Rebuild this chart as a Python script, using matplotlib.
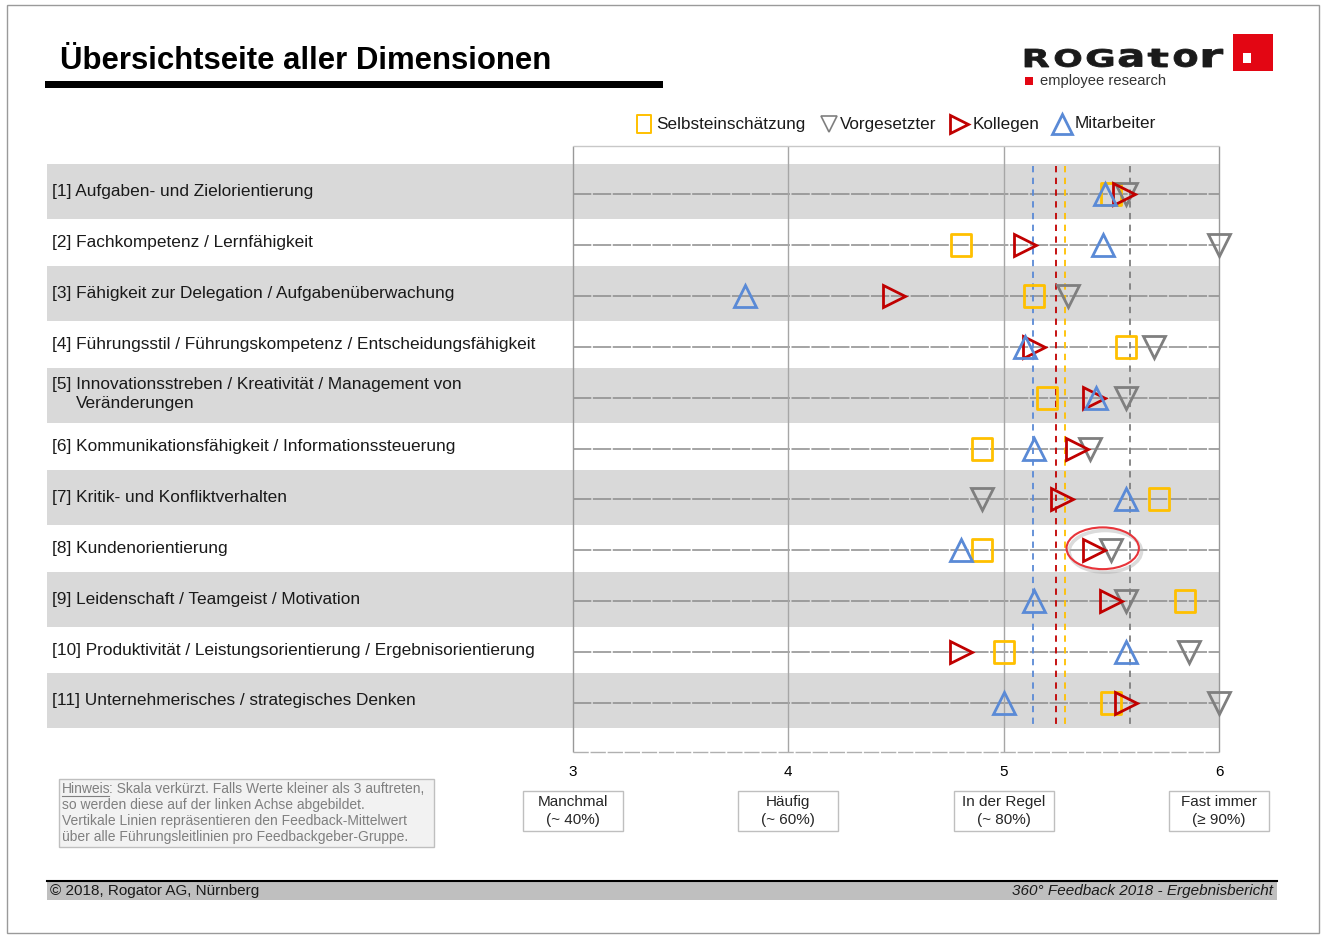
import numpy as np
import matplotlib
matplotlib.use('Agg')
import matplotlib.pyplot as plt
from matplotlib.patches import Rectangle, Ellipse, PathPatch
from matplotlib.path import Path
from matplotlib.textpath import TextPath
from matplotlib.font_manager import FontProperties
from matplotlib.transforms import Affine2D, blended_transform_factory

plt.rcParams['font.family'] = ['Liberation Sans', 'DejaVu Sans']

# data
dimensions = [
    '[1] Aufgaben- und Zielorientierung',
    '[2] Fachkompetenz / Lernfähigkeit',
    '[3] Fähigkeit zur Delegation / Aufgabenüberwachung',
    '[4] Führungsstil / Führungskompetenz / Entscheidungsfähigkeit',
    '[5] Innovationsstreben / Kreativität / Management von\nVeränderungen',
    '[6] Kommunikationsfähigkeit / Informationssteuerung',
    '[7] Kritik- und Konfliktverhalten',
    '[8] Kundenorientierung',
    '[9] Leidenschaft / Teamgeist / Motivation',
    '[10] Produktivität / Leistungsorientierung / Ergebnisorientierung',
    '[11] Unternehmerisches / strategisches Denken',
]
selbst = [5.50, 4.80, 5.14, 5.57, 5.20, 4.90, 5.72, 4.90, 5.84, 5.00, 5.50]
vorgesetzter = [5.57, 6.00, 5.30, 5.70, 5.57, 5.40, 4.90, 5.50, 5.57, 5.86, 6.00]
kollegen = [5.56, 5.10, 4.49, 5.14, 5.42, 5.34, 5.27, 5.42, 5.50, 4.80, 5.57]
mitarbeiter = [5.47, 5.46, 3.80, 5.10, 5.43, 5.14, 5.57, 4.80, 5.14, 5.57, 5.00]
mean_selbst, mean_vorg, mean_koll, mean_mitarb = 5.285, 5.587, 5.243, 5.137
group_names = ['Selbsteinschätzung', 'Vorgesetzter', 'Kollegen', 'Mitarbeiter']
scale_ticks = [3, 4, 5, 6]
scale_labels = ['Manchmal\n(~ 40%)', 'Häufig\n(~ 60%)', 'In der Regel\n(~ 80%)', 'Fast immer\n(≥ 90%)']
highlight_row = 7

W, H = 1327, 940
YEL, GRY, RED, BLU = '#FFC000', '#7F7F7F', '#C00000', '#5A8AD6'

fig = plt.figure(figsize=(W / 100, H / 100), dpi=100)

# overlay in pixel coordinates for page decoration
ov = fig.add_axes([0, 0, 1, 1], zorder=0)
ov.set_xlim(0, W)
ov.set_ylim(H, 0)
ov.axis('off')

row_px = 50.9
ylims = ((752 - 194) / row_px, (146 - 194) / row_px)
rows = np.arange(len(dimensions))

# background bands behind labels and plot
ax_bg = fig.add_axes([47 / W, 1 - 752 / H, (1220 - 47) / W, (752 - 146) / H], zorder=1)
ax_bg.set_xlim(0, 1)
ax_bg.set_ylim(*ylims)
ax_bg.axis('off')
for i in rows[::2]:
    ax_bg.axhspan(i - 0.58, i + 0.50, color='#D9D9D9', lw=0)
lab_tr = blended_transform_factory(ax_bg.transAxes, ax_bg.transData)
lab_x = (52 - 47) / (1220 - 47)
for i, lab in enumerate(dimensions):
    if '\n' in lab:
        l1, l2 = lab.split('\n')
        ax_bg.text(lab_x, i - 0.25, l1, transform=lab_tr, va='center', fontsize=12.4, color='#1A1A1A')
        ax_bg.text((76 - 47) / (1220 - 47), i + 0.12, l2, transform=lab_tr, va='center',
                   fontsize=12.4, color='#1A1A1A')
    else:
        ax_bg.text(lab_x, i - 0.04, lab, transform=lab_tr, va='center', fontsize=12.4, color='#1A1A1A')

# main plot
ax = fig.add_axes([573 / W, 1 - 752 / H, (1219 - 573) / W, (752 - 146) / H], zorder=2)
ax.patch.set_visible(False)
ax.set_xlim(3, 6)
ax.set_ylim(*ylims)
for s in ax.spines.values():
    s.set_visible(False)
ax.set_yticks([])
ax.set_xticks(scale_ticks)
ax.set_xticklabels([str(t) for t in scale_ticks])
ax.tick_params(axis='x', length=0, pad=9, labelsize=11)

ax.hlines(rows, 3, 6, colors='#8C8C8C', lw=1.1, linestyles=(0, (12, 1.0)), zorder=1)
ax.vlines([4, 5], ylims[1], ylims[0], colors='#A6A6A6', lw=1.0, zorder=1)
ax.vlines([3, 6], ylims[1], ylims[0], colors='#999999', lw=1.0, zorder=1, clip_on=False)
ax.hlines(ylims[1], 3, 6, colors='#C8C8C8', lw=1.0, clip_on=False)
ax.hlines(ylims[0], 3, 6, colors='#B0B0B0', lw=1.0, linestyles=(0, (11, 1.3)), clip_on=False)

for m, c in [(mean_mitarb, BLU), (mean_koll, RED), (mean_selbst, YEL), (mean_vorg, GRY)]:
    ax.vlines(m, -0.55, 10.49, colors=c, lw=1.3, linestyles=(0, (3.5, 3)), zorder=2)

sq = Path([(-0.43, -0.5), (0.43, -0.5), (0.43, 0.5), (-0.43, 0.5), (-0.43, -0.5)], closed=True)
series = [(selbst, sq, YEL), (vorgesetzter, 'v', GRY), (kollegen, '>', RED), (mitarbeiter, '^', BLU)]
for vals, mk, c in series:
    ax.plot(vals, rows, ls='none', marker=mk, ms=16.5, mfc='none', mec=c, mew=2.0,
            clip_on=False, zorder=3)

# highlight ellipse
cx = (kollegen[highlight_row] + vorgesetzter[highlight_row]) / 2
ax.add_patch(Ellipse((cx + 0.012, highlight_row + 0.02), 0.336, 0.82, fill=False,
                     ec='#B0B0B0', lw=2.6, alpha=0.45, zorder=3.5))
ax.add_patch(Ellipse((cx, highlight_row - 0.04), 0.336, 0.82, fill=False,
                     ec='#E8343A', lw=1.5, zorder=4))

# scale description boxes
btr = blended_transform_factory(ax.transData, ax.transAxes)
for t, lab in zip(scale_ticks, scale_labels):
    ax.add_patch(Rectangle((t - 0.232, -0.1304), 0.464, 0.066, transform=btr, fc='white',
                           ec='#BFBFBF', lw=1, clip_on=False))
    ax.text(t, -0.0974, lab, transform=btr, ha='center', va='center', fontsize=11,
            linespacing=1.3, color='#262626')

# legend
leg = [(644, sq, YEL, 12.5, 1.4), (829, 'v', GRY, 11, 1.2), (959, '>', RED, 13, 2.0), (1062, '^', BLU, 14, 2.0)]
text_x = [656, 840, 973, 1075]
for (mx, mk, c, ms, mw), tx, name in zip(leg, text_x, group_names):
    ov.plot([mx], [124], ls='none', marker=mk, ms=ms, mfc='none', mec=c, mew=mw, clip_on=False)
    ov.text(tx, 124, name, va='center', fontsize=12.3, color='#1A1A1A')

# title and bar
ov.text(60, 69, 'Übersichtseite aller Dimensionen', fontsize=22.4, fontweight='bold', va='baseline')
ov.add_patch(Rectangle((45, 81), 618, 7, fc='black', ec='none'))

# logo
fp = FontProperties(family='DejaVu Sans', weight='bold')
x0 = 1025
for ch, w in zip('ROGator', [24, 26, 26, 23, 20, 23, 20]):
    tp = TextPath((0, 0), ch, size=10, prop=fp)
    ext = tp.get_extents()
    trf = Affine2D().translate(-ext.x0, -ext.y0).scale(w / ext.width, -18 / ext.height).translate(x0, 67)
    ov.add_patch(PathPatch(trf.transform_path(tp), fc='#1A1A1A', ec='#1A1A1A', lw=0.6))
    x0 += w + 6
ov.add_patch(Rectangle((1233, 34), 40, 37, fc='#E30613', ec='none'))
ov.add_patch(Rectangle((1243, 53), 8, 10, fc='white', ec='none'))
ov.add_patch(Rectangle((1025, 77), 8, 8, fc='#E30613', ec='none'))
ov.text(1040, 81, 'employee research', va='center', fontsize=10.6, color='#333333')

# hint box
ov.add_patch(Rectangle((59, 779), 375, 68, fc='#F2F2F2', ec='#BFBFBF', lw=1))
hint_lines = ['Skala verkürzt. Falls Werte kleiner als 3 auftreten,',
              'so werden diese auf der linken Achse abgebildet.',
              'Vertikale Linien repräsentieren den Feedback-Mittelwert',
              'über alle Führungsleitlinien pro Feedbackgeber-Gruppe.']
hc = '#7F7F7F'
t0 = ov.text(62, 789, 'Hinweis', va='center', fontsize=10, color=hc)
fig.canvas.draw()
bb = t0.get_window_extent(renderer=fig.canvas.get_renderer())
hw = bb.width - 2
ov.plot([62, 62 + hw], [796, 796], color=hc, lw=0.8)
ov.text(62 + hw, 789, ': ' + hint_lines[0], va='center', fontsize=10, color=hc)
for k, line in enumerate(hint_lines[1:]):
    ov.text(62, 805 + 16 * k, line, va='center', fontsize=10, color=hc)

# footer
ov.add_patch(Rectangle((47, 882), 1230, 18, fc='#BFBFBF', ec='none'))
ov.plot([47, 1277], [881, 881], color='black', lw=1.5)
ov.text(50, 891, '© 2018, Rogator AG, Nürnberg', va='center', fontsize=11, color='#1A1A1A')
ov.text(1273, 891, '360° Feedback 2018 - Ergebnisbericht', va='center', ha='right',
        fontsize=11, style='italic', color='#1A1A1A')

# page border
ov.add_patch(Rectangle((7, 5), 1312, 928, fill=False, ec='#9A9A9A', lw=1))

fig.savefig('out.png', dpi=100)
